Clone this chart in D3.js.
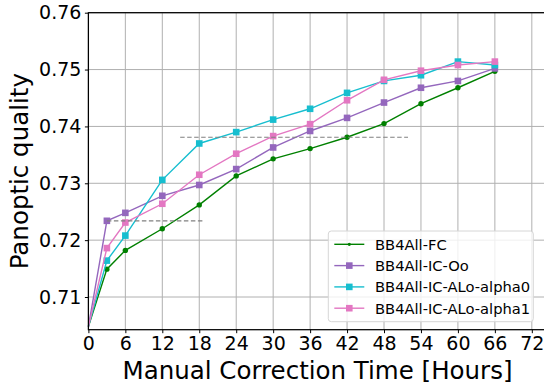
<!DOCTYPE html>
<html>
<head>
<meta charset="utf-8">
<script src="https://cdn.jsdelivr.net/npm/d3@7"></script>
<style>
  body { margin: 0; background: #fff; }
  svg { display: block; font-family: "DejaVu Sans", sans-serif; }
</style>
</head>
<body>
<svg width="544" height="385"></svg>
<script>
// hours of manual correction
const hours = [0, 3, 6, 12, 18, 24, 30, 36, 42, 48, 54, 60, 66];

const fc      = [0.7048, 0.7149, 0.7182, 0.7220, 0.7262, 0.7313, 0.7343, 0.7361, 0.7381, 0.7405, 0.7440, 0.7468, 0.7497];
const icOo    = [0.7048, 0.7234, 0.7248, 0.7278, 0.7297, 0.7325, 0.7363, 0.7392, 0.7415, 0.7442, 0.7468, 0.7480, 0.7502];
const alpha0  = [0.7048, 0.7164, 0.7208, 0.7306, 0.7370, 0.7390, 0.7412, 0.7431, 0.7459, 0.7480, 0.7490, 0.7514, 0.7508];
const alpha1  = [0.7048, 0.7186, 0.7231, 0.7264, 0.7315, 0.7352, 0.7383, 0.7404, 0.7446, 0.7482, 0.7498, 0.7508, 0.7514];

const seriesNames  = ["BB4All-FC", "BB4All-IC-Oo", "BB4All-IC-ALo-alpha0", "BB4All-IC-ALo-alpha1"];
const seriesColors = ["green", "#9467bd", "#17becf", "#e377c2"];
const seriesMarks  = ["circle", "square", "square", "square"];

// dashed reference lines: [x0, x1, y]
const refLines = [
  [3, 18.6, 0.7234],
  [14.9, 51.9, 0.7381]
];

const xTicks = d3.range(0, 73, 6);
const yTicks = [0.71, 0.72, 0.73, 0.74, 0.75, 0.76];

const svg = d3.select("svg");
const mLeft = 88.4, mRight = 546.6, mTop = 12.7, mBottom = 329.7;

const x = d3.scaleLinear().domain([0, 74.4]).range([mLeft, mRight]);
const y = d3.scaleLinear().domain([0.70425, 0.76]).range([mBottom, mTop]);

// grid
svg.append("g").selectAll("line").data(xTicks).enter().append("line")
  .attr("x1", d => x(d)).attr("x2", d => x(d))
  .attr("y1", mTop).attr("y2", mBottom)
  .attr("stroke", "#b0b0b0").attr("stroke-width", 1);
svg.append("g").selectAll("line").data(yTicks).enter().append("line")
  .attr("x1", mLeft).attr("x2", mRight)
  .attr("y1", d => y(d)).attr("y2", d => y(d))
  .attr("stroke", "#b0b0b0").attr("stroke-width", 1);

const series = [fc, icOo, alpha0, alpha1];
const line = d3.line().x((d, i) => x(hours[i])).y(d => y(d));

const plot = svg.append("g");
series.forEach((vals, s) => {
  const g = plot.append("g");
  g.append("path")
    .attr("d", line(vals))
    .attr("fill", "none")
    .attr("stroke", seriesColors[s])
    .attr("stroke-width", 1.4);
  const pts = vals.slice(1);
  if (seriesMarks[s] == "circle") {
    g.selectAll("circle").data(pts).enter().append("circle")
      .attr("cx", (d, i) => x(hours[i + 1]))
      .attr("cy", d => y(d))
      .attr("r", 2.7)
      .attr("fill", seriesColors[s]);
  } else {
    g.selectAll("rect").data(pts).enter().append("rect")
      .attr("x", (d, i) => x(hours[i + 1]) - 3.3)
      .attr("y", d => y(d) - 3.3)
      .attr("width", 6.6).attr("height", 6.6)
      .attr("fill", seriesColors[s]);
  }
});

// dashed helper lines
svg.append("g").selectAll("line").data(refLines).enter().append("line")
  .attr("x1", d => x(d[0])).attr("x2", d => x(d[1]))
  .attr("y1", d => y(d[2])).attr("y2", d => y(d[2]))
  .attr("stroke", "#808080").attr("stroke-width", 1.2)
  .attr("stroke-dasharray", "4.5,2.5");

// axes
const xAxis = svg.append("g")
  .attr("transform", `translate(0,${mBottom})`)
  .call(d3.axisBottom(x).tickValues(xTicks).tickSize(3.5).tickPadding(3.5).tickFormat(d3.format("d")));
const yAxis = svg.append("g")
  .attr("transform", `translate(${mLeft},0)`)
  .call(d3.axisLeft(y).tickValues(yTicks).tickSize(3.5).tickPadding(3.5).tickFormat(d3.format(".2f")));

[xAxis, yAxis].forEach(a => {
  a.selectAll("text").attr("font-family", "DejaVu Sans").attr("font-size", "19px").attr("fill", "#000");
  a.selectAll("line").attr("stroke", "#000").attr("stroke-width", 1);
  a.select(".domain").remove();
});

// spines
svg.append("rect")
  .attr("x", mLeft).attr("y", mTop)
  .attr("width", mRight - mLeft).attr("height", mBottom - mTop)
  .attr("fill", "none").attr("stroke", "#000").attr("stroke-width", 1.25);

// labels
svg.append("text")
  .attr("x", (mLeft + mRight) / 2).attr("y", 379)
  .attr("text-anchor", "middle")
  .attr("font-size", "24.5px")
  .text("Manual Correction Time [Hours]");
svg.append("text")
  .attr("transform", `translate(28.3,${(mTop + mBottom) / 2}) rotate(-90)`)
  .attr("text-anchor", "middle")
  .attr("font-size", "24.5px")
  .text("Panoptic quality");

// legend
const lg = svg.append("g").attr("transform", "translate(328.3,231)");
lg.append("rect")
  .attr("width", 205).attr("height", 90.7).attr("rx", 3)
  .attr("fill", "#fff").attr("fill-opacity", 0.8)
  .attr("stroke", "#d6d6d6").attr("stroke-width", 1);
seriesNames.forEach((name, i) => {
  const ry = 13.3 + i * 21.3;
  lg.append("line")
    .attr("x1", 6).attr("x2", 36).attr("y1", ry).attr("y2", ry)
    .attr("stroke", seriesColors[i]).attr("stroke-width", 1.4);
  if (seriesMarks[i] == "circle") {
    lg.append("circle").attr("cx", 21).attr("cy", ry).attr("r", 1.6).attr("fill", seriesColors[i]);
  } else {
    lg.append("rect").attr("x", 21 - 3.3).attr("y", ry - 3.3)
      .attr("width", 6.6).attr("height", 6.6).attr("fill", seriesColors[i]);
  }
  lg.append("text")
    .attr("x", 46.7).attr("y", ry + 5.3)
    .attr("font-size", "14.7px")
    .text(name);
});
</script>
</body>
</html>
